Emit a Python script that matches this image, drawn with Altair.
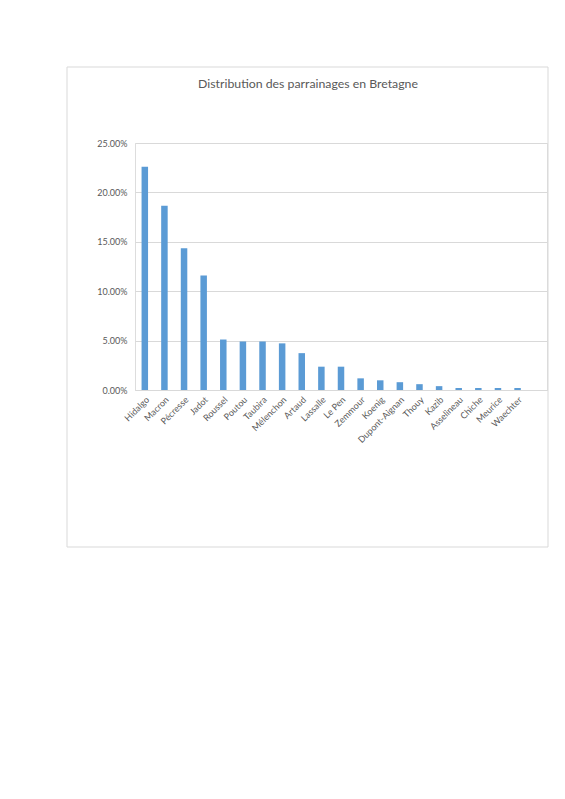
import altair as alt
import pandas as pd

candidates = ["Hidalgo", "Macron", "Pécresse", "Jadot", "Roussel", "Poutou", "Taubira",
              "Mélenchon", "Artaud", "Lassalle", "Le Pen", "Zemmour", "Koenig",
              "Dupont-Aignan", "Thouy", "Kazib", "Asselineau", "Chiche", "Meurice", "Waechter"]
shares = [0.2259, 0.1866, 0.1434, 0.1159, 0.0511, 0.0491, 0.0491, 0.0472, 0.0373,
          0.0236, 0.0236, 0.0118, 0.0098, 0.0079, 0.0059, 0.0039, 0.0020, 0.0020,
          0.0020, 0.0020]
y_ticks = [0.0, 0.05, 0.10, 0.15, 0.20, 0.25]
title_text = "Distribution des parrainages en Bretagne"

df = pd.DataFrame({"candidat": candidates, "part": shares})
x_domain = candidates + [" "]

frame = alt.Chart(alt.Data(values=[{}])).mark_rect(
    fillOpacity=0, stroke="#d9d9d9", strokeWidth=1
).encode(
    x=alt.value(-68), x2=alt.value(413), y=alt.value(-76), y2=alt.value(404)
)

bars = alt.Chart(df).mark_bar(color="#5B9BD5", size=6.5).encode(
    x=alt.X("candidat:N", sort=None,
            scale=alt.Scale(domain=x_domain, paddingInner=0, paddingOuter=0),
            axis=alt.Axis(title=None, labelAngle=315, labelFontSize=9,
                          labelColor="#595959", domainColor="#d9d9d9",
                          ticks=False, labelPadding=5, grid=False,
                          labelFont="Lato")),
    y=alt.Y("part:Q", scale=alt.Scale(domain=[0, 0.25], nice=False),
            axis=alt.Axis(title=None, format=".2%", values=y_ticks, domain=False,
                          ticks=False, gridColor="#d9d9d9", labelPadding=8,
                          labelFontSize=9, labelColor="#595959", labelFont="Lato")),
)

chart = alt.layer(frame, bars).properties(
    width=412, height=247,
    title=alt.TitleParams(title_text, frame="group", anchor="middle", dx=-33,
                          baseline="alphabetic", offset=0, dy=34, fontSize=12.3,
                          font="Lato", fontWeight="normal", color="#595959"),
    autosize=alt.AutoSizeParams(type="none"),
    padding={"left": 127, "top": 135, "right": 10, "bottom": 170},
).configure_view(stroke=None).configure(background="white")

chart.save("out.html", embed_options={"renderer": "svg", "actions": False})
